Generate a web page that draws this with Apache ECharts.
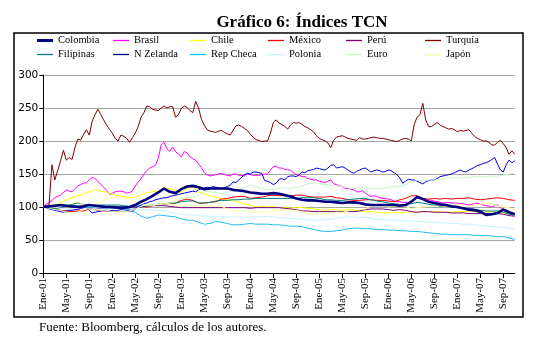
<!DOCTYPE html>
<html>
<head>
<meta charset="utf-8">
<script src="https://cdn.jsdelivr.net/npm/echarts@6/dist/echarts.min.js"></script>
<style>
html,body{margin:0;padding:0;background:#fff;}
#c{width:545px;height:353px;}
</style>
</head>
<body>
<div id="c"></div>
<script>
// Tick labels every 4 months (x index in months from Ene-01)
var tickLabels = ['Ene-01','May-01','Sep-01','Ene-02','May-02','Sep-02','Ene-03','May-03','Sep-03','Ene-04','May-04','Sep-04','Ene-05','May-05','Sep-05','Ene-06','May-06','Sep-06','Ene-07','May-07','Sep-07'];
var seriesNames = ['Colombia','Brasil','Chile','México','Perú','Turquía','Filipinas','N Zelanda','Rep Checa','Polonia','Euro','Japón'];

// Half-monthly series (step 0.5 month)
var turquia = [100,102,103,164,141,155,170,186,171,175,172,190,203,201,210,217,209,230,240,248,240,232,224,218,212,204,200,209,207,204,198,205,212,222,236,243,253,252,248,247,246,250,253,250,252,252,236,240,249,253,251,246,243,260,250,233,224,217,215,214,213,215,216,213,211,209,216,223,224,222,219,216,210,206,202,201,199,200,200,212,228,232,227,225,222,218,224,228,227,228,225,222,220,217,214,208,204,202,200,197,190,201,206,207,208,206,204,203,202,201,205,203,203,204,205,206,205,204,204,203,202,201,200,199,201,203,204,203,200,225,236,240,257,232,222,222,225,228,224,222,220,218,219,217,214,216,215,216,217,212,207,204,202,200,200,198,194,194,198,201,196,190,180,185,180];
var brasil = [100,104,107,110,114,116,118,122,126,124,123,128,132,134,136,137,141,145,143,139,134,130,125,119,121,123,124,124,123,121,122,124,132,138,143,150,155,159,161,163,174,194,198,188,184,191,184,180,176,184,182,176,173,171,165,160,152,149,147,148,149,150,151,149,148,147,150,150,148,148,147,150,149,148,148,148,149,150,150,156,161,162,159,159,157,156,156,152,149,148,146,146,143,142,141,141,139,138,137,139,141,135,134,132,131,128,128,127,126,123,123,125,121,118,116,117,116,114,113,113,112,111,109,108,108,107,107,106,107,112,116,114,112,110,111,110,109,108,107,106,107,107,106,106,106,105,105,104,103,104,105,106,104,103,102,101,100,102,103,99,97,95,93,91,90];
var nZelanda = [100,99,97,96,95,94,93,92,94,95,95,96,96,98,99,100,95,91,92,93,94,95,95,94,95,94,95,96,96,95,94,94,97,101,103,105,106,108,109,111,112,113,114,114,116,117,118,119,120,121,122,123,124,123,126,128,129,130,129,131,130,129,128,129,131,133,138,137,141,145,149,151,150,153,153,152,151,140,139,137,134,136,142,143,141,146,147,147,146,149,153,152,155,156,157,159,158,157,156,159,163,164,159,160,161,159,156,153,151,154,156,158,159,156,153,155,156,155,153,154,156,155,152,149,144,136,139,142,141,141,139,137,135,138,140,141,141,143,146,147,148,149,150,152,154,156,154,153,156,158,160,163,164,166,167,169,172,175,165,156,153,164,171,167,170];

// Monthly series (step 1 month)
var colombia = [100,101,102,103,102,101,100,101,103,102,101,100,100,99,99,100,103,108,112,117,122,128,123,121,127,131,132,130,127,128,128,128,128,126,125,124,122,121,120,120,121,120,118,116,113,111,110,110,109,108,108,107,106,107,107,106,104,103,103,103,103,103,102,103,108,115,112,108,106,104,103,101,100,98,96,95,93,88,89,91,96,92,89];
var chile = [100,101,103,107,111,114,117,120,123,126,124,122,119,117,116,114,115,118,122,123,124,129,128,124,123,128,130,123,120,117,114,113,111,110,107,104,103,100,101,100,101,99,99,98,100,99,98,97,96,95,96,96,95,96,95,94,93,93,92,91,91,92,91,92,93,92,93,93,93,93,92,92,93,93,94,93,92,92,93,92,91,90,89];
var mexico = [100,99,98,95,94,93,94,94,97,96,94,94,94,93,93,94,98,101,100,102,104,104,105,106,110,112,110,106,106,107,108,112,113,115,116,116,113,114,115,117,118,117,118,117,118,118,116,115,115,115,116,114,113,111,110,110,111,111,110,110,109,108,111,113,117,117,113,112,113,112,113,112,113,113,114,112,111,112,113,114,113,111,110];
var peru = [100,100,101,103,102,100,99,99,99,99,98,98,98,99,98,98,99,100,101,102,102,102,101,100,99,99,99,99,99,99,99,99,99,99,99,99,98,99,99,99,99,99,98,97,96,94,94,93,93,93,93,93,93,93,93,94,96,97,97,97,96,95,96,95,93,92,93,93,92,92,92,91,91,91,90,90,90,90,90,90,89,87,86];
var filipinas = [100,98,97,99,101,104,106,104,103,103,103,103,103,103,102,101,101,101,102,103,104,105,106,106,108,109,109,106,106,107,109,110,110,111,111,112,112,113,113,113,113,113,113,113,113,114,114,114,113,111,111,110,110,111,112,113,113,111,109,108,106,105,104,104,105,107,106,104,103,101,101,100,99,98,98,97,95,94,94,94,92,89,88];
var repCheca = [100,100,101,102,103,103,102,100,99,99,99,98,98,98,97,96,92,86,83,85,88,87,86,85,82,80,80,77,74,75,78,77,75,73,73,74,75,74,74,74,73,73,72,71,71,70,68,66,64,63,63,64,65,67,68,68,67,67,66,66,65,65,64,64,63,63,62,61,60,59,59,58,58,58,58,57,57,57,56,55,55,53,51];
var polonia = [100,99,100,98,97,98,101,101,101,100,99,98,99,100,100,98,97,96,96,95,95,94,92,90,89,88,88,87,86,86,86,86,85,85,85,84,85,85,86,86,85,84,83,83,82,81,81,80,80,81,82,83,84,85,85,84,84,83,81,81,80,80,80,79,79,78,78,77,77,76,76,75,75,74,74,73,72,71,70,70,69,68,67];
var euro = [100,98,96,95,92,91,92,97,97,96,95,95,93,93,93,94,97,101,104,104,104,104,106,108,113,114,115,117,123,123,122,120,122,124,127,130,133,131,128,126,127,128,129,128,130,132,135,136,135,134,133,132,131,129,128,129,129,128,127,128,130,131,132,134,138,140,141,141,141,142,143,144,144,144,145,146,146,146,147,147,148,150,151];
var japon = [100,100,104,106,103,106,108,103,102,105,107,112,114,114,114,112,107,106,102,102,104,106,104,102,102,102,102,102,101,102,102,101,97,94,94,93,92,92,92,92,96,94,95,95,95,93,90,89,89,90,91,92,92,94,96,96,97,102,103,102,100,101,101,101,97,99,100,101,101,102,101,102,104,103,101,103,104,106,105,101,100,99,95];

var seriesValues = {
  'Colombia': [colombia, 1], 'Brasil': [brasil, 0.5], 'Chile': [chile, 1], 'México': [mexico, 1],
  'Perú': [peru, 1], 'Turquía': [turquia, 0.5], 'Filipinas': [filipinas, 1], 'N Zelanda': [nZelanda, 0.5],
  'Rep Checa': [repCheca, 1], 'Polonia': [polonia, 1], 'Euro': [euro, 1], 'Japón': [japon, 1]
};
var colors = {
  'Colombia':'#000080','Brasil':'#FF00FF','Chile':'#FFFF00','México':'#FF0000','Perú':'#800080','Turquía':'#800000',
  'Filipinas':'#008080','N Zelanda':'#0000DD','Rep Checa':'#22BBEE','Polonia':'#C4F4FA','Euro':'#C8F5C8','Japón':'#FFFF99'
};
var legendColors = {'N Zelanda':'#000080','Rep Checa':'#00CCFF'};

var series = seriesNames.map(function(n){
  var vals = seriesValues[n][0], step = seriesValues[n][1];
  return {
    name: n, type: 'line', showSymbol: false, symbol: 'none',
    lineStyle: {width: n === 'Colombia' ? 2.6 : 1, color: colors[n]},
    itemStyle: {color: legendColors[n] || colors[n]},
    z: n === 'Colombia' ? 4 : 2,
    animation: false,
    data: vals.map(function(v, i){ return [i * step, v]; })
  };
});

var colLeft = [58, 134, 211, 289, 367, 446];
var legends = seriesNames.map(function(n, i){
  var col = i % 6, row = Math.floor(i / 6);
  return {
    data: [n], selectedMode: false, icon: 'rect',
    itemWidth: 16, itemHeight: n === 'Colombia' ? 3 : 1.3,
    left: colLeft[col] - 21, top: row === 0 ? 35 : 49,
    padding: 0, itemGap: 0,
    textStyle: {fontFamily: 'Liberation Serif', fontSize: 10.5, color: '#000'}
  };
});

var tickVals = tickLabels.map(function(_, i){ return i * 4; });

var chart = echarts.init(document.getElementById('c'), null, {renderer: 'canvas'});
chart.setOption({
  backgroundColor: '#fff',
  animation: false,
  title: {
    text: '{b|Gráfico 6:} {r|Índices TCN}',
    left: 297, top: 9, textAlign: 'center',
    textStyle: {rich: {
      b: {fontFamily: 'Liberation Serif', fontSize: 17, fontWeight: 'bold', color: '#000'},
      r: {fontFamily: 'Liberation Serif', fontSize: 17, color: '#000'}
    }}
  },
  legend: legends,
  grid: {left: 43.3, right: 30.2, top: 75, bottom: 80, containLabel: false},
  xAxis: {
    type: 'value', min: 0, max: 82, interval: 4,
    axisLine: {show: true, lineStyle: {color: '#000', width: 1}},
    axisTick: {show: true, length: 5, lineStyle: {color: '#000'}, customValues: tickVals},
    axisLabel: {
      customValues: tickVals, rotate: 90, margin: 5,
      fontFamily: 'Liberation Serif', fontSize: 11, color: '#000',
      formatter: function(v){ var i = Math.round(v / 4); return tickLabels[i] || ''; }
    },
    splitLine: {show: false}
  },
  yAxis: {
    type: 'value', min: 0, max: 300, interval: 50,
    axisLine: {show: true, lineStyle: {color: '#000', width: 1}},
    axisTick: {show: true, length: 4, lineStyle: {color: '#000'}},
    axisLabel: {fontFamily: 'DejaVu Sans', fontSize: 10.5, color: '#000', margin: 5},
    splitLine: {show: true, lineStyle: {color: '#A6A6A6', width: 1}}
  },
  graphic: [
    {type: 'rect', shape: {x: 14, y: 33, width: 509, height: 284}, style: {fill: 'none', stroke: '#000', lineWidth: 1.5}, silent: true, z: 0},
    {type: 'text', left: 39, top: 321, style: {text: 'Fuente: Bloomberg, cálculos de los autores.', font: '13px "Liberation Serif"', fill: '#000'}}
  ],
  series: series
});
</script>
</body>
</html>
